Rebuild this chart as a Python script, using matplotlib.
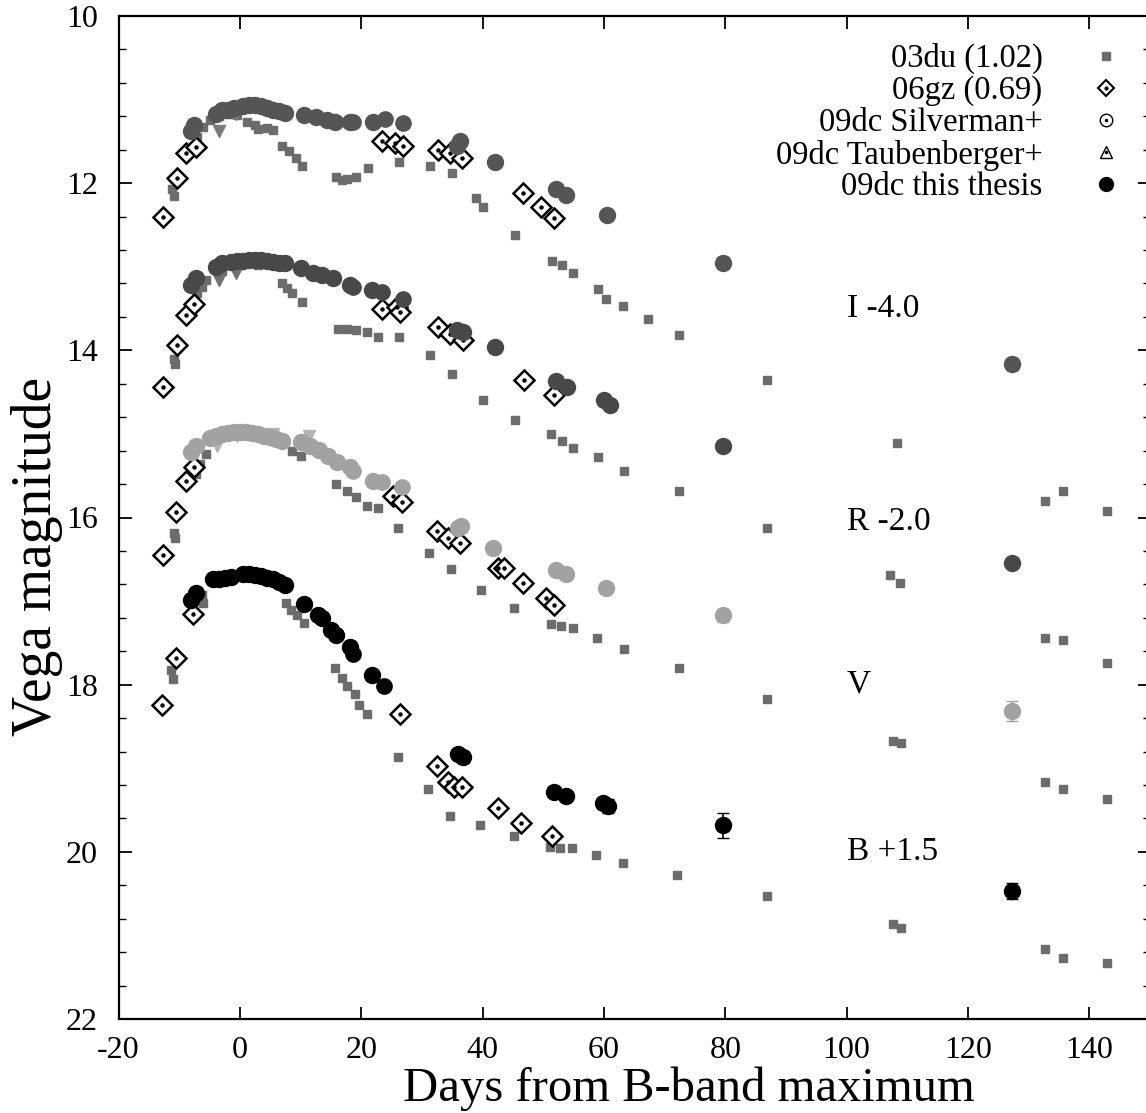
import matplotlib
matplotlib.use("Agg")
import matplotlib.pyplot as plt
from matplotlib.ticker import MultipleLocator
from matplotlib.lines import Line2D

plt.rcParams['font.family'] = ['Liberation Serif', 'DejaVu Serif']
plt.rcParams['axes.unicode_minus'] = False

# ---- data (shifted magnitudes as plotted) ----
bands = ['I', 'R', 'V', 'B']
band_labels = ['I -4.0', 'R -2.0', 'V', 'B +1.5']
label_day = [100.0, 100.0, 100.0, 100.0]
label_mag = [13.5, 16.05, 18.0, 20.0]

# SN 2003du
i03du_day = [-11.2, -10.9, -7.0, -6.0, -5.0, -3.5, -2.0, -0.5, 1.2, 2.5, 3.0, 4.4, 5.4, 7.0, 8.1, 9.2, 10.3,
             15.9, 16.8, 17.6, 19.2, 21.1, 26.2, 31.3, 35.0, 39.0, 40.0, 45.4, 51.4, 53.1, 54.9, 59.0,
             60.4, 63.2, 67.2, 72.3, 86.9, 108.3, 132.7, 135.7, 142.9]
i03du_mag = [12.07, 12.15, 11.45, 11.33, 11.25, 11.2, 11.17, 11.18, 11.27, 11.3, 11.35, 11.34, 11.36, 11.55,
             11.62, 11.70, 11.80, 11.93, 11.96, 11.95, 11.93, 11.82, 11.75, 11.80, 11.88, 12.18, 12.28,
             12.62, 12.93, 12.98, 13.08, 13.27, 13.38, 13.47, 13.62, 13.82, 14.36, 15.11, 15.80, 15.68, 15.92]
r03du_day = [-10.9, -10.7, -7.0, -6.2, -5.6, -3.0, 0.0, 3.0, 7.0, 7.8, 8.6, 10.3, 16.1, 17.6, 19.2, 20.9,
             22.7, 26.2, 31.3, 35.0, 40.0, 45.3, 51.2, 53.1, 54.9, 59.0, 63.3, 72.3, 86.9, 107.2, 108.8,
             132.7, 135.7, 142.9]
r03du_mag = [14.10, 14.16, 13.32, 13.24, 13.16, 13.05, 12.98, 12.98, 13.19, 13.25, 13.32, 13.42, 13.74,
             13.74, 13.76, 13.78, 13.84, 13.84, 14.06, 14.28, 14.59, 14.83, 15.00, 15.08, 15.17, 15.28,
             15.44, 15.68, 16.13, 16.69, 16.78, 17.44, 17.47, 17.74]
v03du_day = [-10.9, -10.7, -7.3, -6.5, -5.6, 8.6, 10.1, 15.9, 17.6, 19.1, 20.9, 22.7, 26.0, 31.2, 34.8,
             39.8, 45.1, 51.2, 52.9, 54.9, 58.9, 63.3, 72.3, 86.9, 107.6, 109.0, 132.7, 135.7, 142.9]
v03du_mag = [16.19, 16.25, 15.48, 15.36, 15.24, 15.20, 15.26, 15.60, 15.68, 15.75, 15.86, 15.89, 16.12,
             16.42, 16.62, 16.87, 17.08, 17.27, 17.30, 17.32, 17.44, 17.57, 17.80, 18.17, 18.67, 18.70,
             19.17, 19.25, 19.37]
b03du_day = [-11.3, -11.1, -6.3, -6.0, 7.6, 8.5, 9.5, 10.6, 15.6, 16.9, 17.7, 18.9, 19.7, 20.9, 26.0,
             31.0, 34.7, 39.6, 45.1, 51.1, 52.7, 54.7, 58.7, 63.2, 72.1, 86.9, 107.6, 109.0, 132.7, 135.7,
             142.9]
b03du_mag = [17.83, 17.93, 16.93, 17.02, 17.02, 17.11, 17.17, 17.26, 17.80, 17.92, 18.01, 18.11, 18.24,
             18.35, 18.86, 19.25, 19.57, 19.68, 19.81, 19.94, 19.95, 19.95, 20.04, 20.13, 20.28, 20.53,
             20.86, 20.91, 21.16, 21.27, 21.33]

# SN 2006gz
i06gz_day = [-12.6, -10.4, -8.8, -7.3, 23.5, 25.5, 26.9, 32.7, 34.7, 36.6, 46.6, 49.6, 51.7]
i06gz_mag = [12.41, 11.94, 11.64, 11.57, 11.49, 11.52, 11.55, 11.60, 11.64, 11.70, 12.12, 12.29, 12.42]
r06gz_day = [-12.6, -10.4, -8.8, -7.5, 23.4, 25.9, 26.4, 32.7, 34.7, 36.8, 46.8, 51.7]
r06gz_mag = [14.44, 13.94, 13.58, 13.45, 13.50, 13.48, 13.54, 13.72, 13.80, 13.88, 14.36, 14.54]
v06gz_day = [-12.6, -10.6, -8.8, -7.6, 25.2, 26.7, 32.5, 34.3, 36.3, 42.5, 43.6, 46.6, 50.4, 51.7]
v06gz_mag = [16.45, 15.94, 15.56, 15.40, 15.74, 15.82, 16.16, 16.24, 16.31, 16.60, 16.60, 16.78, 16.96, 17.05]
b06gz_day = [-12.9, -10.6, -7.8, 26.4, 32.5, 34.3, 35.3, 36.6, 42.5, 46.4, 51.4]
b06gz_mag = [18.24, 17.68, 17.16, 18.35, 18.97, 19.17, 19.23, 19.23, 19.47, 19.66, 19.81]

# SN 2009dc, Silverman+
i_silv_day = [18.6, 23.9, 26.9]
i_silv_mag = [11.27, 11.23, 11.28]
r_silv_day = [18.6, 23.5, 26.9]
r_silv_mag = [13.24, 13.30, 13.38]
v_silv_day = [18.6, 23.5, 26.7]
v_silv_mag = [15.44, 15.58, 15.64]
b_silv_day = [18.6, 23.7]
b_silv_mag = [17.63, 18.01]

# SN 2009dc, Taubenberger+
i_taub_day = [-3.5, -0.7]
i_taub_mag = [11.37, 11.17]
r_taub_day = [-3.5, -0.7]
r_taub_mag = [13.16, 13.08]
v_taub_day = [-3.8, -0.5, 5.5, 11.4]
v_taub_mag = [15.14, 15.02, 15.00, 15.02]
b_taub_day = [-1.0]
b_taub_mag = [16.72]

# SN 2009dc, this thesis
i_this_day = [-8.1, -7.6, -4.0, -3.0, -2.0, -1.0, 0.5, 1.5, 2.5, 3.5, 4.5, 5.5, 6.5, 7.5, 10.6, 12.6, 14.3,
              15.6, 18.1, 21.9, 35.8, 36.3, 42.1, 52.1, 53.7, 60.5, 79.6, 127.2]
i_this_mag = [11.37, 11.30, 11.17, 11.12, 11.12, 11.10, 11.08, 11.07, 11.07, 11.08, 11.10, 11.12, 11.14,
              11.16, 11.19, 11.21, 11.25, 11.27, 11.27, 11.27, 11.55, 11.49, 11.75, 12.07, 12.14, 12.38,
              12.95, 14.16]
i_this_err = [0.03] * 26 + [0.07, 0.07]
r_this_day = [-8.1, -7.3, -4.0, -3.0, -1.5, -0.5, 0.5, 1.5, 2.5, 3.5, 4.5, 5.5, 6.5, 7.5, 10.1, 12.0, 13.6,
              15.3, 18.1, 21.7, 35.8, 36.8, 42.0, 52.1, 53.9, 60.0, 61.0, 79.6, 127.2]
r_this_mag = [13.22, 13.14, 13.00, 12.96, 12.94, 12.93, 12.93, 12.92, 12.92, 12.92, 12.93, 12.94, 12.95,
              12.96, 13.02, 13.07, 13.10, 13.14, 13.22, 13.28, 13.76, 13.78, 13.96, 14.37, 14.44, 14.60,
              14.65, 15.14, 16.54]
r_this_err = [0.03] * 27 + [0.05, 0.05]
v_this_day = [-8.1, -7.3, -5.0, -4.0, -3.0, -2.0, -1.0, 0.0, 1.0, 2.0, 3.0, 4.0, 5.0, 6.0, 7.0, 10.0, 11.5,
              13.0, 14.5, 16.0, 18.1, 21.9, 36.0, 36.5, 41.8, 52.1, 53.7, 60.4, 79.6, 127.2]
v_this_mag = [15.22, 15.14, 15.05, 15.02, 15.00, 14.99, 14.98, 14.98, 14.98, 14.99, 15.00, 15.02, 15.04,
              15.06, 15.09, 15.10, 15.14, 15.19, 15.26, 15.34, 15.40, 15.56, 16.13, 16.10, 16.36, 16.63,
              16.68, 16.84, 17.17, 18.31]
v_this_err = [0.03] * 27 + [0.06, 0.08, 0.12]
b_this_day = [-8.1, -7.3, -4.5, -3.5, -2.5, -1.5, 0.5, 1.5, 2.5, 3.5, 4.5, 5.5, 6.5, 7.5, 10.6, 12.8, 13.6,
              15.1, 15.9, 18.1, 21.7, 36.0, 36.8, 51.7, 53.7, 59.9, 60.7, 79.6, 127.2]
b_this_mag = [16.99, 16.90, 16.74, 16.73, 16.72, 16.71, 16.68, 16.68, 16.69, 16.70, 16.72, 16.74, 16.77,
              16.81, 17.04, 17.17, 17.20, 17.35, 17.41, 17.55, 17.89, 18.83, 18.87, 19.29, 19.33, 19.41,
              19.45, 19.68, 20.47]
b_this_err = [0.04] * 20 + [0.06, 0.06, 0.07, 0.05, 0.05, 0.05, 0.08, 0.15, 0.10]

# ---- style ----
band_color = {'I': '#555555', 'R': '#484848', 'V': '#a2a2a2', 'B': '#000000'}
taub_color = {'I': '#7a7a7a', 'R': '#707070', 'V': '#b4b4b4', 'B': '#555555'}
sq_color = '#6c6c6c'

data = {
    'I': (i03du_day, i03du_mag, i06gz_day, i06gz_mag, i_silv_day, i_silv_mag, i_taub_day, i_taub_mag,
          i_this_day, i_this_mag, i_this_err),
    'R': (r03du_day, r03du_mag, r06gz_day, r06gz_mag, r_silv_day, r_silv_mag, r_taub_day, r_taub_mag,
          r_this_day, r_this_mag, r_this_err),
    'V': (v03du_day, v03du_mag, v06gz_day, v06gz_mag, v_silv_day, v_silv_mag, v_taub_day, v_taub_mag,
          v_this_day, v_this_mag, v_this_err),
    'B': (b03du_day, b03du_mag, b06gz_day, b06gz_mag, b_silv_day, b_silv_mag, b_taub_day, b_taub_mag,
          b_this_day, b_this_mag, b_this_err),
}

fig = plt.figure(figsize=(11.46, 11.13), dpi=100)
ax = fig.add_axes([118.5 / 1146, 94 / 1113, 1031.5 / 1146, 1003 / 1113])

for b in bands:
    d03, m03, d06, m06, ds, ms, dt, mt, dth, mth, eth = data[b]
    c = band_color[b]
    ax.plot(d03, m03, ls='none', marker='s', ms=6, mfc=sq_color, mec=sq_color, zorder=2)
    ax.plot(d06, m06, ls='none', marker='D', ms=10, mfc='white', mec='black', mew=1.8, zorder=3)
    ax.plot(d06, m06, ls='none', marker='o', ms=2.2, mfc='black', mec='black', zorder=3.1)
    ax.errorbar(ds, ms, yerr=0.05, fmt='o', ms=11, mfc=c, mec=c, ecolor=c, elinewidth=1, capsize=3,
                zorder=4)
    ax.plot(dt, mt, ls='none', marker='v', ms=8, mfc=taub_color[b], mec=taub_color[b], zorder=3.5)
    ax.errorbar(dth, mth, yerr=eth, fmt='o', ms=11.5, mfc=c, mec=c, ecolor=c, elinewidth=1.2, capsize=4,
                zorder=5)

for txt, x, y in zip(band_labels, label_day, label_mag):
    ax.text(x, y, txt, fontsize=24, ha='left', va='center')

ax.set_xlim(-20, 150)
ax.set_ylim(22, 10)
ax.xaxis.set_major_locator(MultipleLocator(20))
ax.yaxis.set_major_locator(MultipleLocator(2))
ax.yaxis.set_minor_locator(MultipleLocator(0.4))
ax.tick_params(which='both', direction='in', top=True, right=True, labelsize=23)
ax.tick_params(which='major', length=9, width=1.3)
ax.tick_params(which='minor', length=5, width=1.0)
ax.tick_params(axis='x', pad=12)
ax.tick_params(axis='y', pad=15)
for s in ax.spines.values():
    s.set_linewidth(1.6)

ax.set_xlabel('Days from B-band maximum', fontsize=35)
ax.set_ylabel('Vega magnitude', fontsize=40)
ax.xaxis.label.set_verticalalignment('baseline')
ax.xaxis.set_label_coords(0.553, -0.0818)
ax.yaxis.set_label_coords(-0.0538, 0.461)

# legend (gnuplot style: right-justified text, symbol to the right)
h03 = Line2D([], [], ls='none', marker='s', ms=6, mfc=sq_color, mec=sq_color)
h06 = (Line2D([], [], ls='none', marker='D', ms=8, mfc='white', mec='black', mew=1.5),
       Line2D([], [], ls='none', marker='o', ms=2, mfc='black', mec='black'))
hsi = (Line2D([], [], ls='none', marker='o', ms=9, mfc='white', mec='black', mew=1.0),
       Line2D([], [], ls='none', marker='o', ms=1.5, mfc='black', mec='black'))
hta = (Line2D([], [], ls='none', marker='^', ms=9, mfc='white', mec='black', mew=1.0),
       Line2D([], [], ls='none', marker='o', ms=1.5, mfc='black', mec='black'))
hth = Line2D([], [], ls='none', marker='o', ms=10, mfc='black', mec='black')
ax.legend([h03, h06, hsi, hta, hth],
          ['03du (1.02)', '06gz (0.69)', '09dc Silverman+', '09dc Taubenberger+', '09dc this thesis'],
          loc='upper right', bbox_to_anchor=(0.9733, 0.973), frameon=False, markerfirst=False,
          fontsize=23.5, handlelength=1.0, handletextpad=1.45, labelspacing=0.04, borderpad=0,
          borderaxespad=0)

fig.savefig('out.png', dpi=100)
